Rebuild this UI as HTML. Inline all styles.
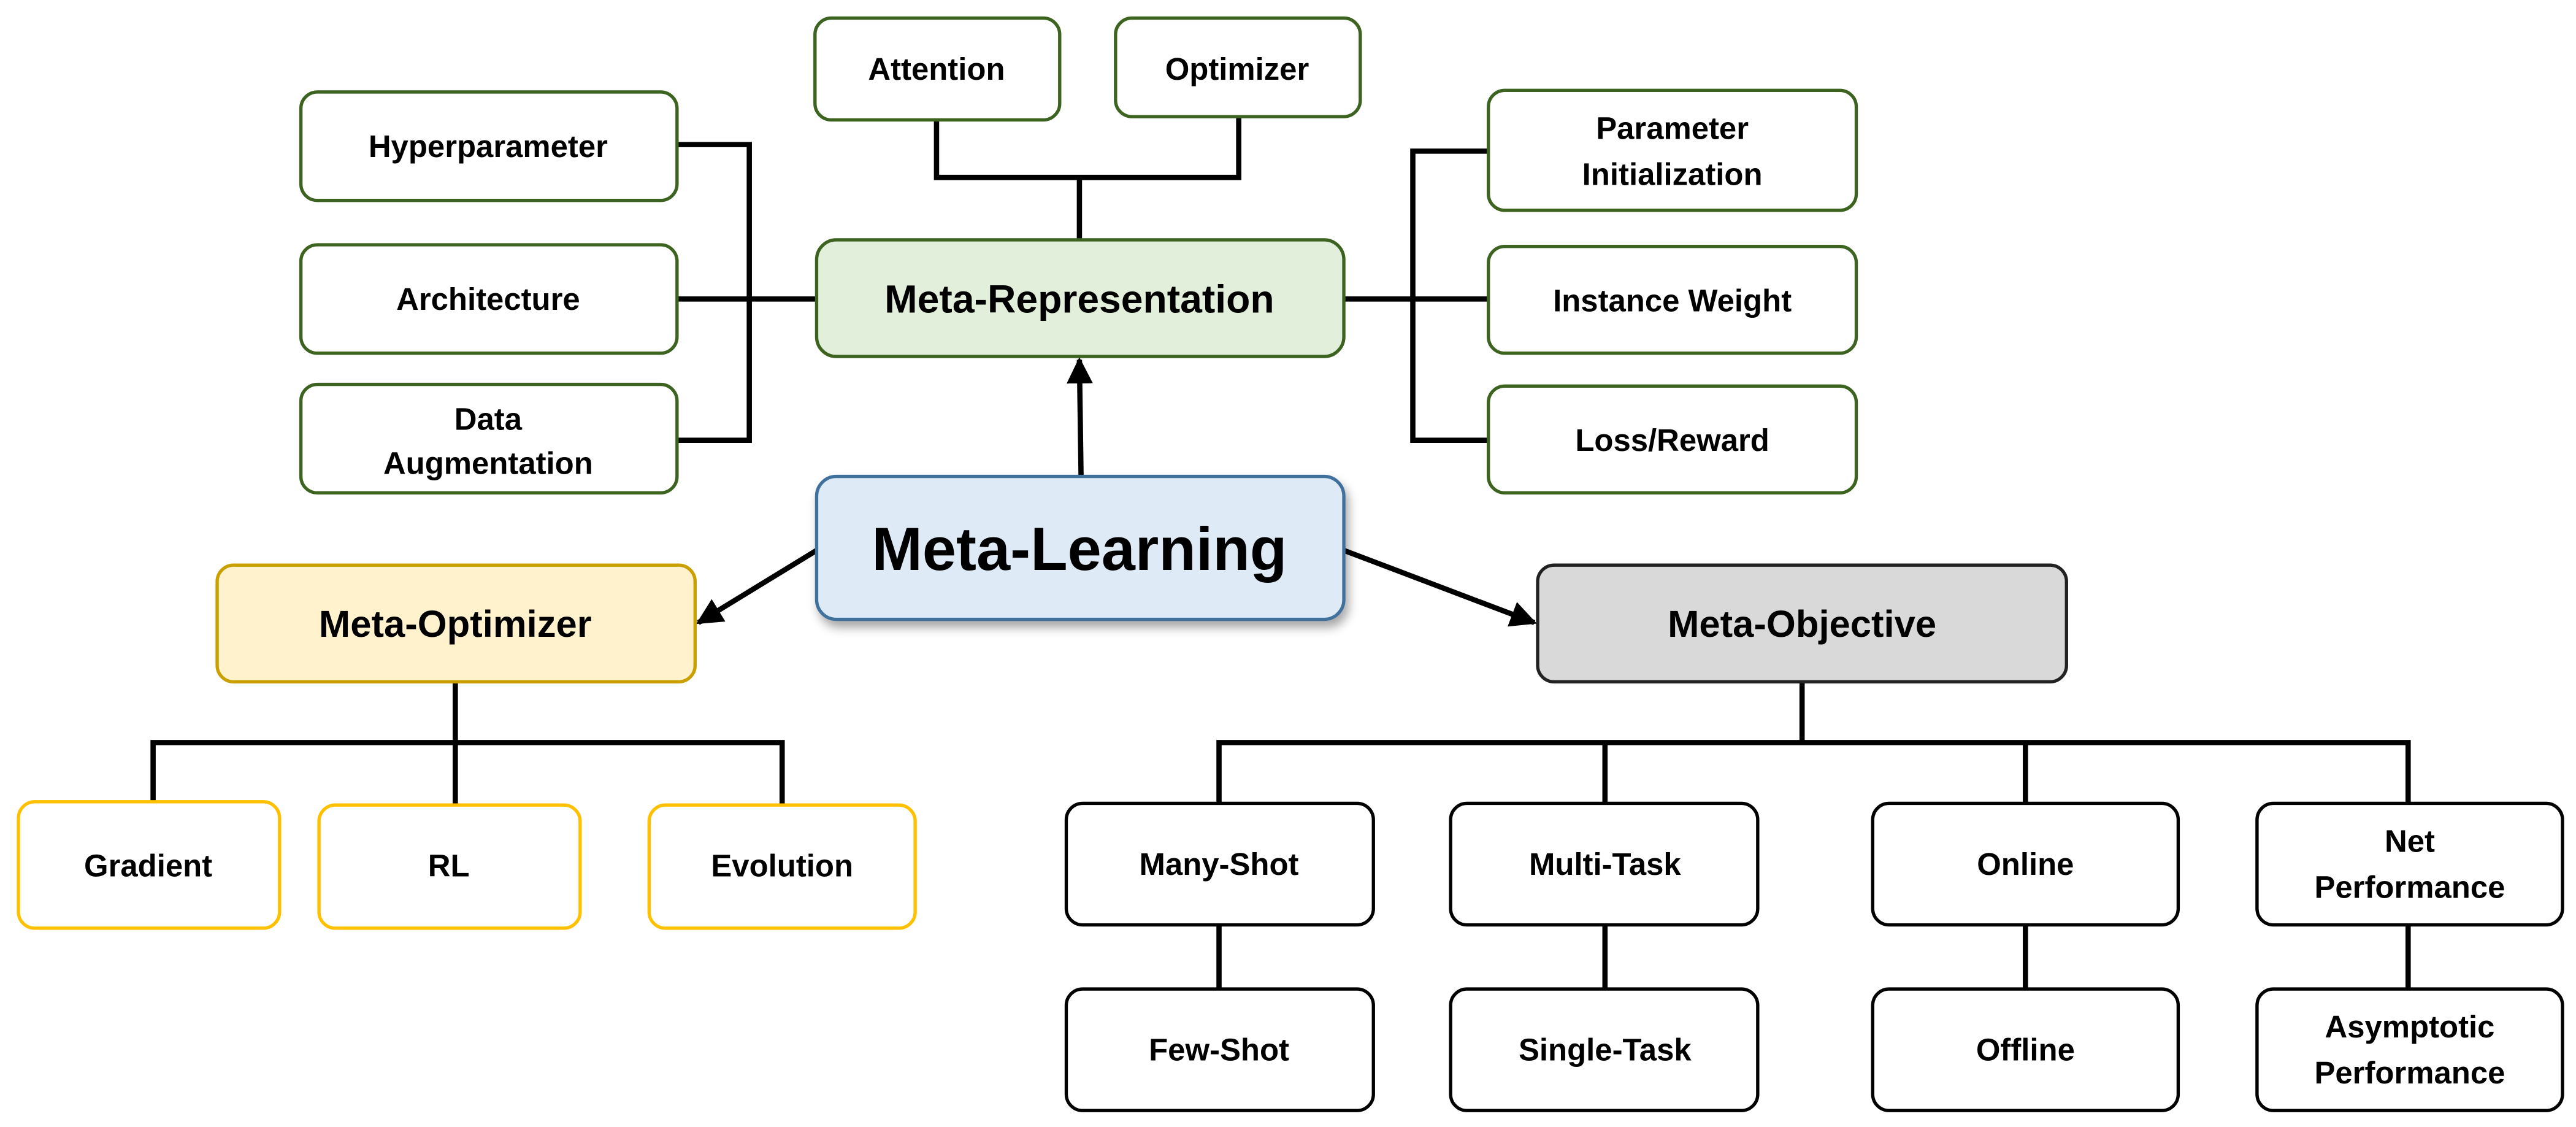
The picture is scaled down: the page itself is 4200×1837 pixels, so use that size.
<!DOCTYPE html>
<html><head><meta charset="utf-8"><style>
html,body{margin:0;padding:0;background:#fff;}
svg{display:block;}
text{font-family:"Liberation Sans","DejaVu Sans",sans-serif;font-weight:bold;fill:#000;text-anchor:middle;dominant-baseline:central;}
</style></head><body>
<svg width="4200" height="1837" viewBox="0 0 1568 686" xmlns="http://www.w3.org/2000/svg">
<defs>
<marker id="ah" viewBox="0 0 10 10" refX="9" refY="5" markerWidth="5" markerHeight="5" orient="auto-start-reverse">
<path d="M0,0 L10,5 L0,10 z" fill="#000"/></marker>
<filter id="sh" x="-10%" y="-10%" width="130%" height="140%"><feDropShadow dx="2" dy="4" stdDeviation="3" flood-color="#000" flood-opacity="0.35"/></filter>
</defs>
<g stroke="#000" stroke-width="3.2" fill="none">
<polyline points="570,73 570,108 754,108 754,71"/>
<line x1="657" y1="108" x2="657" y2="146"/>
<polyline points="412,88 456,88 456,268 412,268"/>
<line x1="412" y1="182" x2="497" y2="182"/>
<line x1="818" y1="182" x2="906" y2="182"/>
<polyline points="906,92 860,92 860,268 906,268"/>
<line x1="658" y1="290" x2="657" y2="219" marker-end="url(#ah)"/>
<line x1="497" y1="335" x2="425" y2="379" marker-end="url(#ah)"/>
<line x1="818" y1="335" x2="934" y2="379" marker-end="url(#ah)"/>
<line x1="277" y1="415" x2="277" y2="452"/>
<polyline points="93,489 93,452 476,452 476,490"/>
<line x1="277" y1="452" x2="277" y2="490"/>
<line x1="1097" y1="415" x2="1097" y2="452"/>
<polyline points="742,489 742,452 1466,452 1466,489"/>
<line x1="977" y1="452" x2="977" y2="489"/>
<line x1="1233" y1="452" x2="1233" y2="489"/>
<line x1="742" y1="563" x2="742" y2="602"/>
<line x1="977" y1="563" x2="977" y2="602"/>
<line x1="1233" y1="563" x2="1233" y2="602"/>
<line x1="1466" y1="563" x2="1466" y2="602"/>
</g>
<g fill="#fff" stroke="#3c6420" stroke-width="2">
<rect x="496" y="11" width="149" height="62" rx="10"/>
<rect x="679" y="11" width="149" height="60" rx="10"/>
<rect x="183" y="56" width="229" height="66" rx="10"/>
<rect x="183" y="149" width="229" height="66" rx="10"/>
<rect x="183" y="234" width="229" height="66" rx="10"/>
<rect x="906" y="55" width="224" height="73" rx="10"/>
<rect x="906" y="150" width="224" height="65" rx="10"/>
<rect x="906" y="235" width="224" height="65" rx="10"/>
<rect x="497" y="146" width="321" height="71" rx="12" fill="#e2efda"/>
</g>
<rect x="497" y="290" width="321" height="87" rx="12" fill="#deebf7" stroke="#41719c" stroke-width="2" filter="url(#sh)"/>
<rect x="132" y="344" width="291" height="71" rx="10" fill="#fff2cc" stroke="#c9a000" stroke-width="2"/>
<rect x="936" y="344" width="322" height="71" rx="10" fill="#d9d9d9" stroke="#222" stroke-width="2"/>
<g fill="#fff" stroke="#ffc000" stroke-width="2">
<rect x="11" y="488" width="159" height="77" rx="10"/>
<rect x="194" y="490" width="159" height="75" rx="10"/>
<rect x="395" y="490" width="162" height="75" rx="10"/>
</g>
<g fill="#fff" stroke="#000" stroke-width="2">
<rect x="649" y="489" width="187" height="74" rx="10"/>
<rect x="883" y="489" width="187" height="74" rx="10"/>
<rect x="1140" y="489" width="186" height="74" rx="10"/>
<rect x="1374" y="489" width="186" height="74" rx="10"/>
<rect x="649" y="602" width="187" height="74" rx="10"/>
<rect x="883" y="602" width="187" height="74" rx="10"/>
<rect x="1140" y="602" width="186" height="74" rx="10"/>
<rect x="1374" y="602" width="186" height="74" rx="10"/>
</g>
<g font-size="19">
<text x="570" y="42">Attention</text>
<text x="753" y="42">Optimizer</text>
<text x="297" y="89">Hyperparameter</text>
<text x="297" y="182">Architecture</text>
<text x="297" y="255">Data</text>
<text x="297" y="282">Augmentation</text>
<text x="1018" y="78">Parameter</text>
<text x="1018" y="106">Initialization</text>
<text x="1018" y="183">Instance Weight</text>
<text x="1018" y="268">Loss/Reward</text>
<text x="90" y="527">Gradient</text>
<text x="273" y="527">RL</text>
<text x="476" y="527">Evolution</text>
<text x="742" y="526">Many-Shot</text>
<text x="977" y="526">Multi-Task</text>
<text x="1233" y="526">Online</text>
<text x="1467" y="512">Net</text>
<text x="1467" y="540">Performance</text>
<text x="742" y="639">Few-Shot</text>
<text x="977" y="639">Single-Task</text>
<text x="1233" y="639">Offline</text>
<text x="1467" y="625">Asymptotic</text>
<text x="1467" y="653">Performance</text>
</g>
<text x="657" y="182" font-size="24">Meta-Representation</text>
<text x="277" y="380" font-size="23">Meta-Optimizer</text>
<text x="1097" y="380" font-size="23">Meta-Objective</text>
<text x="657" y="334" font-size="37">Meta-Learning</text>
</svg>
</body></html>
